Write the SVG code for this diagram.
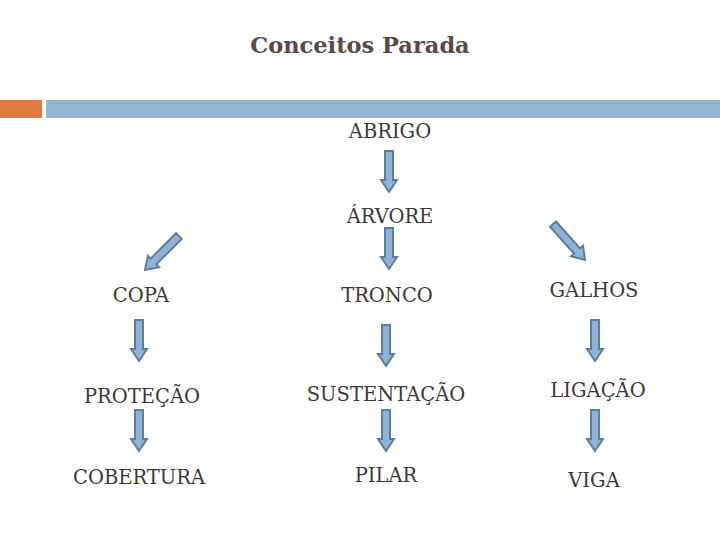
<svg xmlns="http://www.w3.org/2000/svg" xmlns:xlink="http://www.w3.org/1999/xlink" width="720" height="540" viewBox="0 0 720 540">
  <style>
    .lbl { font-family: "DejaVu Serif", "Liberation Serif", serif; font-size: 19.5px; fill: #3e3836; text-anchor: middle; }
    .title { font-family: "DejaVu Serif", "Liberation Serif", serif; font-size: 22.5px; font-weight: bold; fill: #5a4a47; text-anchor: middle; }
    .arr { fill: #8fb3d6; stroke: #5e7d98; stroke-width: 2; stroke-linejoin: miter; }
  </style>
  <defs>
    <path id="down" class="arr" d="M-4,-41 L4,-41 L4,-12 L8,-12 L0,0 L-8,-12 L-4,-12 Z"/>
    <path id="downlong" class="arr" d="M-4,-48 L4,-48 L4,-12 L8,-12 L0,0 L-8,-12 L-4,-12 Z"/>
  </defs>
  <rect width="720" height="540" fill="#ffffff"/>
  <g id="header">
    <rect x="0" y="100" width="42" height="18" fill="#e07b40"/>
    <rect x="46" y="100" width="674" height="18" fill="#94b6d4"/>
    <text class="title" x="360" y="53">Conceitos Parada</text>
  </g>
  <g id="connectors">
    <use xlink:href="#down" transform="translate(389,192)"/>
    <use xlink:href="#down" transform="translate(389,269)"/>
    <use xlink:href="#downlong" transform="translate(145,270) rotate(45)"/>
    <use xlink:href="#downlong" transform="translate(585,260) rotate(-41.7)"/>
    <use xlink:href="#down" transform="translate(139,361)"/>
    <use xlink:href="#down" transform="translate(139,451)"/>
    <use xlink:href="#down" transform="translate(386,366)"/>
    <use xlink:href="#down" transform="translate(386,451)"/>
    <use xlink:href="#down" transform="translate(595,361)"/>
    <use xlink:href="#down" transform="translate(595,451)"/>
  </g>
  <g id="n-abrigo"><text class="lbl" x="390" y="138">ABRIGO</text></g>
  <g id="n-arvore"><text class="lbl" x="390" y="223">ÁRVORE</text></g>
  <g id="n-copa"><text class="lbl" x="141" y="302">COPA</text></g>
  <g id="n-tronco"><text class="lbl" x="387" y="302">TRONCO</text></g>
  <g id="n-galhos"><text class="lbl" x="594" y="297">GALHOS</text></g>
  <g id="n-protecao"><text class="lbl" x="142" y="403">PROTEÇÃO</text></g>
  <g id="n-sustentacao"><text class="lbl" x="386" y="401">SUSTENTAÇÃO</text></g>
  <g id="n-ligacao"><text class="lbl" x="598" y="397">LIGAÇÃO</text></g>
  <g id="n-cobertura"><text class="lbl" x="139" y="484">COBERTURA</text></g>
  <g id="n-pilar"><text class="lbl" x="386" y="482">PILAR</text></g>
  <g id="n-viga"><text class="lbl" x="594" y="487">VIGA</text></g>
</svg>
